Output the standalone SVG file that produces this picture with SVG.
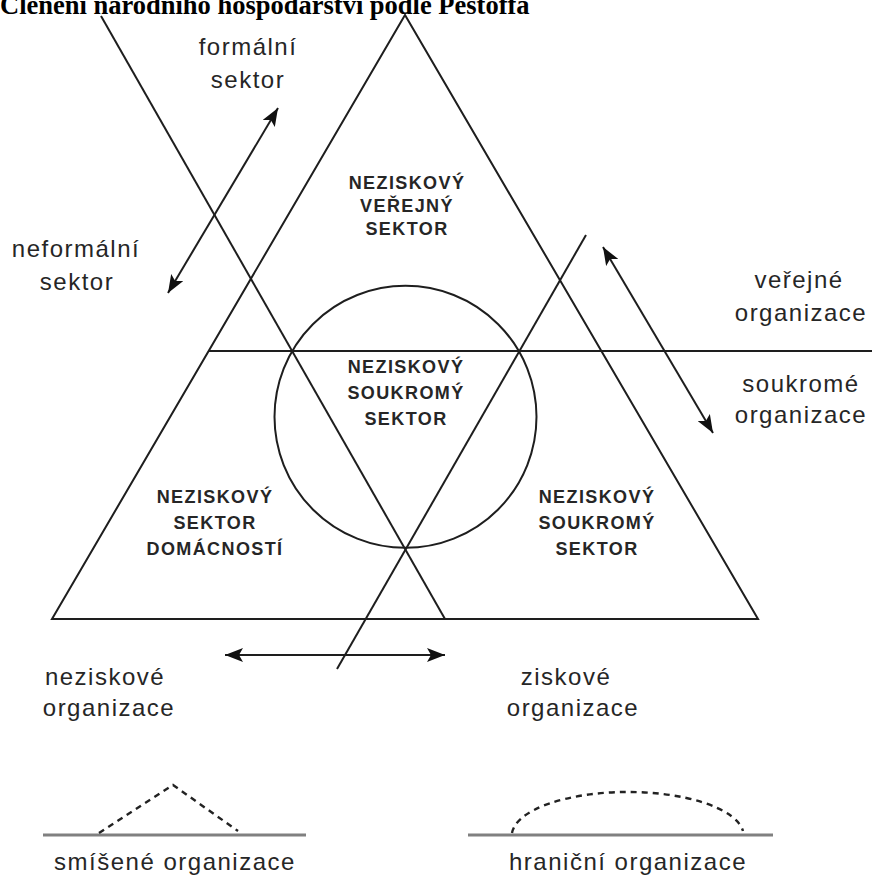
<svg xmlns="http://www.w3.org/2000/svg" width="872" height="881" viewBox="0 0 872 881">
<style>
.ln{stroke:#1e1e1e;stroke-width:2;fill:none}
.lab{font-family:"Liberation Sans",Arial,sans-serif;font-size:24px;letter-spacing:1.5px;fill:#262626;text-anchor:middle}
.bl{font-family:"Liberation Sans",Arial,sans-serif;font-size:18px;font-weight:bold;letter-spacing:1.4px;fill:#262626;text-anchor:middle}
.gray{stroke:#808080;stroke-width:3;fill:none}
.dash{stroke:#222;stroke-width:2.4;fill:none;stroke-dasharray:6 5}
.title{font-family:"Liberation Serif","Times New Roman",serif;font-size:26.5px;font-weight:bold;fill:#000}
</style>
<defs>
<marker id="ah" viewBox="0 0 18 14" refX="18" refY="7" markerWidth="18" markerHeight="14" markerUnits="userSpaceOnUse" orient="auto-start-reverse">
<path d="M0,0 L18,7 L0,14 L4,7 z" fill="#111"/>
</marker>
</defs>
<rect width="872" height="881" fill="#fff"/>
<text class="title" x="0" y="14">Členění národního hospodářství podle Pestoffa</text>
<g id="structure">
<polygon class="ln" points="405,15 52,619 758,619"/>
<line class="ln" x1="209" y1="351" x2="872" y2="351"/>
<line class="ln" x1="101" y1="16" x2="445" y2="619"/>
<line class="ln" x1="586" y1="235" x2="337" y2="669"/>
<circle class="ln" cx="405.5" cy="416.8" r="131"/>
</g>
<g id="connectors">
<line class="ln" x1="168" y1="293" x2="278" y2="108" marker-start="url(#ah)" marker-end="url(#ah)"/>
<line class="ln" x1="603" y1="247" x2="713" y2="433" marker-start="url(#ah)" marker-end="url(#ah)"/>
<line class="ln" x1="225" y1="655" x2="445" y2="655" marker-start="url(#ah)" marker-end="url(#ah)"/>
</g>
<g id="verejny-sektor">
<text class="bl" x="407" y="189">NEZISKOVÝ</text>
<text class="bl" x="407" y="212">VEŘEJNÝ</text>
<text class="bl" x="407" y="235">SEKTOR</text>
</g>
<g id="soukromy-sektor-stred">
<text class="bl" x="406" y="373">NEZISKOVÝ</text>
<text class="bl" x="406" y="399">SOUKROMÝ</text>
<text class="bl" x="406" y="425">SEKTOR</text>
</g>
<g id="sektor-domacnosti">
<text class="bl" x="215" y="503">NEZISKOVÝ</text>
<text class="bl" x="215" y="529">SEKTOR</text>
<text class="bl" x="215" y="555">DOMÁCNOSTÍ</text>
</g>
<g id="soukromy-sektor">
<text class="bl" x="597" y="503">NEZISKOVÝ</text>
<text class="bl" x="597" y="529">SOUKROMÝ</text>
<text class="bl" x="597" y="555">SEKTOR</text>
</g>
<g id="formalni">
<text class="lab" x="248" y="55">formální</text>
<text class="lab" x="248" y="88">sektor</text>
</g>
<g id="neformalni">
<text class="lab" x="76" y="257">neformální</text>
<text class="lab" x="77" y="290">sektor</text>
</g>
<g id="verejne">
<text class="lab" x="799" y="288">veřejné</text>
<text class="lab" x="801" y="321">organizace</text>
</g>
<g id="soukrome">
<text class="lab" x="801" y="392">soukromé</text>
<text class="lab" x="801" y="423">organizace</text>
</g>
<g id="neziskove">
<text class="lab" x="105" y="685">neziskové</text>
<text class="lab" x="109" y="716">organizace</text>
</g>
<g id="ziskove">
<text class="lab" x="566" y="685">ziskové</text>
<text class="lab" x="573" y="716">organizace</text>
</g>
<g id="smisene">
<line class="gray" x1="43" y1="835" x2="306" y2="835"/>
<polyline class="dash" points="99,833 173,785 238,831"/>
<text class="lab" x="175" y="870">smíšené organizace</text>
</g>
<g id="hranicni">
<line class="gray" x1="468" y1="835" x2="773" y2="835"/>
<path class="dash" d="M512,833 A116,44 0 0 1 743,831"/>
<text class="lab" x="628" y="870">hraniční organizace</text>
</g>
</svg>
